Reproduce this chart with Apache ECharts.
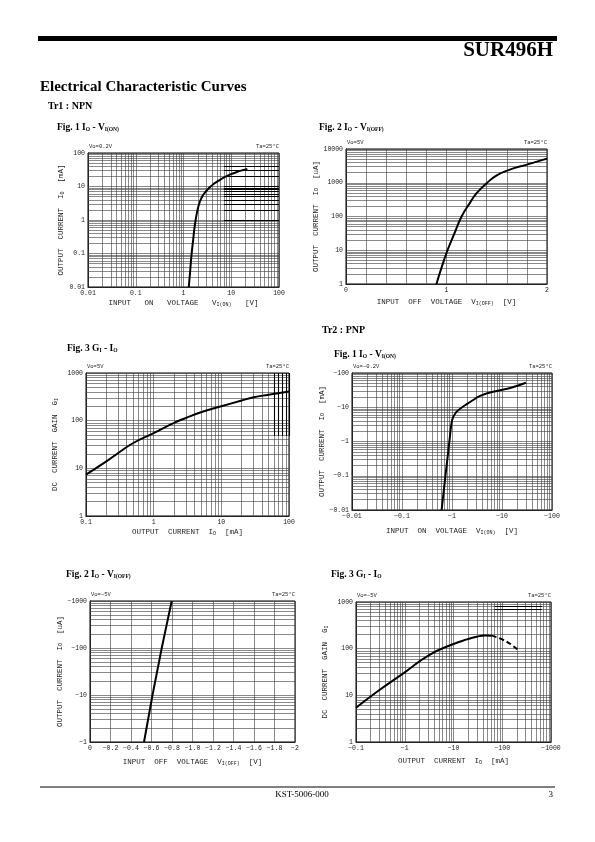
<!DOCTYPE html>
<html><head><meta charset="utf-8">
<script src="https://cdn.jsdelivr.net/npm/echarts@6/dist/echarts.min.js"></script>
<style>html,body{margin:0;padding:0;background:#fff}#c{width:595px;height:842px}</style>
</head><body><div id="c"></div>
<script>
// ---------------- DATA ----------------
// Tr1 NPN  Fig.1  Io - Vi(on)   (V, mA)
const npn1Vin = [1.29, 1.38, 1.47, 1.6, 1.73, 1.95, 2.2, 2.5, 2.9, 3.5, 4.2, 5.5, 7.4, 10, 13, 17, 21.7];
const npn1Io  = [0.01, 0.03, 0.09, 0.27, 0.71, 1.9, 3.5, 5.2, 6.9, 9.3, 11.7, 15, 19.4, 23.5, 27, 30.5, 33.5];
// Tr1 NPN  Fig.2  Io - Vi(off)  (V, uA)
const npn2Vin = [0.90, 0.95, 1.01, 1.08, 1.15, 1.23, 1.3, 1.4, 1.5, 1.63, 1.8, 2.0];
const npn2Io  = [1, 3, 10, 32, 100, 245, 490, 970, 1650, 2450, 3450, 5200];
// Tr1 NPN  Fig.3  Gi - Io  (mA, -)
const npn3Io   = [0.1, 0.2, 0.3, 0.5, 1, 2, 3, 5, 10, 20, 30, 50, 100];
const npn3Gain = [7.4, 14, 21, 34, 55, 90, 114, 150, 200, 265, 310, 350, 410];
// Tr2 PNP  Fig.1  Io - Vi(on)  (magnitudes: -V, -mA)
const pnp1Vin = [0.62, 0.7, 0.8, 0.9, 0.955, 1.0, 1.06, 1.18, 1.34, 1.6, 1.97, 2.6, 3.65, 5.3, 7.9, 12, 17, 30];
const pnp1Io  = [0.01, 0.049, 0.27, 1.23, 2.67, 4.0, 5.2, 6.8, 8.2, 10.0, 12.3, 16, 21.5, 26, 30, 34, 39, 52];
// Tr2 PNP  Fig.2  Io - Vi(off)  (magnitudes: -V, -uA)
const pnp2Vin = [0.527, 0.61, 0.70, 0.797];
const pnp2Io  = [1, 10, 100, 1000];
// Tr2 PNP  Fig.3  Gi - Io  (magnitudes: -mA)
const pnp3Io       = [0.1, 0.27, 1, 3.16, 10, 18.9, 30, 44, 61];
const pnp3Gain     = [5.4, 11.9, 31, 73, 126, 158, 180, 192, 190];
const pnp3IoDash   = [61, 97, 147, 216];
const pnp3GainDash = [190, 160, 126, 91];
// heavy (printed) rule segments visible in the original plots
const npn1HeavyY = [1, 2, 3, 4, 5, 6, 7, 8, 9, 10, 20, 30, 40];
const npn1HeavyX = [7, 100];
const npn3HeavyX = [60, 70, 80, 90, 100];
const npn3HeavyY = [48, 1000];
const pnp3HeavyY = [700, 800];
const pnp3HeavyX = [70, 650];
// tick labels
const logLabels = {0.01:'0.01',0.1:'0.1',1:'1',10:'10',100:'100',1000:'1000',10000:'10000'};
const pnp2XLabels = {0:'0',0.2:'\u22120.2',0.4:'\u22120.4',0.6:'\u22120.6',0.8:'\u22120.8',1:'\u22121.0',1.2:'\u22121.2',1.4:'\u22121.4',1.6:'\u22121.6',1.8:'\u22121.8',2:'\u22122'};

// ---------------- HELPERS ----------------
const MONO = '"Liberation Mono","DejaVu Sans Mono",monospace';
const SERIF = '"Liberation Serif","DejaVu Serif",serif';
function key(v){ return +(+v).toPrecision(6); }
function logGrid(lo, hi){ const o=[]; for(let e=lo;e<hi;e++){ for(let m=1;m<=9;m++){ o.push(key(m*Math.pow(10,e))); } } o.push(key(Math.pow(10,hi))); return o; }
function linGrid(lo, hi, step){ const o=[]; for(let v=lo; v<=hi+1e-9; v+=step){ o.push(key(v)); } return o; }
function pairs(xs, ys){ return xs.map((x,i)=>[x, ys[i]]); }

const axNameRich = {
  a:{fontFamily:MONO,fontSize:7.5,color:'#222',verticalAlign:'bottom',lineHeight:10},
  s:{fontFamily:MONO,fontSize:5,color:'#222',verticalAlign:'bottom',lineHeight:5}
};

const charts = [
  { box:[88,153,191,134], x:{log:true,min:0.01,max:100,lines:logGrid(-2,2)}, y:{log:true,min:0.01,max:100,lines:logGrid(-2,2)},
    xName:'{a|INPUT   ON   VOLTAGE   V}{s|I(ON)}{a|   [V]}', yName:'{a|OUTPUT  CURRENT  I}{s|O}{a|  [mA]}', xGap:10, yGap:22,
    vo:'Vo=0.2V', curves:[{d:pairs(npn1Vin,npn1Io),dash:false}], heavy:npn1HeavyY.map(v=>[[npn1HeavyX[0],v],[npn1HeavyX[1],v]]) },
  { box:[346,149,201,135], x:{log:false,min:0,max:2,interval:1,lines:linGrid(0,2,0.2)}, y:{log:true,min:1,max:10000,lines:logGrid(0,4)},
    xName:'{a|INPUT  OFF  VOLTAGE  V}{s|I(OFF)}{a|  [V]}', yName:'{a|OUTPUT  CURRENT  I}{s|O}{a|  [uA]}', xGap:12, yGap:23,
    vo:'Vo=5V', curves:[{d:pairs(npn2Vin,npn2Io),dash:false}], heavy:[] },
  { box:[86,373,203,143], x:{log:true,min:0.1,max:100,lines:logGrid(-1,2)}, y:{log:true,min:1,max:1000,lines:logGrid(0,3)},
    xName:'{a|OUTPUT  CURRENT  I}{s|O}{a|  [mA]}', yName:'{a|DC  CURRENT  GAIN  G}{s|I}', xGap:10, yGap:27,
    vo:'Vo=5V', curves:[{d:pairs(npn3Io,npn3Gain),dash:false}], heavy:npn3HeavyX.map(v=>[[v,npn3HeavyY[0]],[v,npn3HeavyY[1]]]) },
  { box:[352,373,200,137], x:{log:true,min:0.01,max:100,lines:logGrid(-2,2),neg:true}, y:{log:true,min:0.01,max:100,lines:logGrid(-2,2),neg:true},
    xName:'{a|INPUT  ON  VOLTAGE  V}{s|I(ON)}{a|  [V]}', yName:'{a|OUTPUT  CURRENT  I}{s|O}{a|  [mA]}', xGap:15, yGap:23,
    vo:'Vo=\u22120.2V', curves:[{d:pairs(pnp1Vin,pnp1Io),dash:false}], heavy:[] },
  { box:[90,601,205,141], x:{log:false,min:0,max:2,interval:0.2,lines:linGrid(0,2,0.2),labels:pnp2XLabels}, y:{log:true,min:1,max:1000,lines:logGrid(0,3),neg:true},
    xName:'{a|INPUT  OFF  VOLTAGE  V}{s|I(OFF)}{a|  [V]}', yName:'{a|OUTPUT  CURRENT  I}{s|O}{a|  [uA]}', xGap:14, yGap:26,
    vo:'Vo=\u22125V', curves:[{d:pairs(pnp2Vin,pnp2Io),dash:false,straight:true}], heavy:[] },
  { box:[356,602,195,140], x:{log:true,min:0.1,max:1000,lines:logGrid(-1,3),neg:true}, y:{log:true,min:1,max:1000,lines:logGrid(0,3)},
    xName:'{a|OUTPUT  CURRENT  I}{s|O}{a|  [mA]}', yName:'{a|DC  CURRENT  GAIN  G}{s|I}', xGap:13, yGap:27,
    vo:'Vo=\u22125V', curves:[{d:pairs(pnp3Io,pnp3Gain),dash:false},{d:pairs(pnp3IoDash,pnp3GainDash),dash:true}], heavy:pnp3HeavyY.map(v=>[[pnp3HeavyX[0],v],[pnp3HeavyX[1],v]]) }
];

function fmtLabel(ax){
  return function(v){
    const k = key(v);
    if (ax.labels) return ax.labels[k] !== undefined ? ax.labels[k] : '';
    if (!ax.log && ax.interval === 1) { return String(k); }
    const s = logLabels[k] !== undefined ? logLabels[k] : String(k);
    return ax.neg ? '\u2212' + s : s;
  };
}

const grid=[], xAxis=[], yAxis=[], series=[], graphic=[];
charts.forEach((c,i)=>{
  const [l,t,w,h] = c.box;
  grid.push({left:l, top:t, width:w, height:h, show:true, borderColor:'#000', borderWidth:1, containLabel:false});
  const axCommon = {
    axisLine:{show:true,onZero:false,lineStyle:{color:'#000',width:1}},
    axisTick:{show:false}, splitLine:{show:false},
    nameLocation:'middle', nameTextStyle:{rich:axNameRich}
  };
  xAxis.push(Object.assign({}, axCommon, {
    gridIndex:i, type:c.x.log?'log':'value', logBase:10, min:c.x.min, max:c.x.max,
    interval:c.x.log?undefined:c.x.interval,
    name:c.xName, nameGap:c.xGap,
    axisLabel:{formatter:fmtLabel(c.x), fontFamily:MONO, fontSize:6.5, color:'#222', margin:3, showMinLabel:true, showMaxLabel:true}
  }));
  yAxis.push(Object.assign({}, axCommon, {
    gridIndex:i, type:'log', logBase:10, min:c.y.min, max:c.y.max,
    name:c.yName, nameGap:c.yGap, nameRotate:90,
    axisLabel:{formatter:fmtLabel(c.y), fontFamily:MONO, fontSize:6.5, color:'#222', margin:3, showMinLabel:true, showMaxLabel:true}
  }));
  // grid rules
  const ml = [];
  c.x.lines.forEach(v=>ml.push({xAxis:v}));
  c.y.lines.forEach(v=>ml.push({yAxis:v}));
  series.push({type:'line', xAxisIndex:i, yAxisIndex:i, data:[], z:1, silent:true,
    markLine:{silent:true, symbol:['none','none'], animation:false, label:{show:false},
      lineStyle:{color:'#3a3a3a', width:0.6, type:'solid'}, emphasis:{disabled:true}, data:ml}});
  if (c.heavy.length){
    series.push({type:'line', xAxisIndex:i, yAxisIndex:i, data:[], z:2, silent:true,
      markLine:{silent:true, symbol:['none','none'], animation:false, label:{show:false},
        lineStyle:{color:'#000', width:1.1, type:'solid'}, emphasis:{disabled:true},
        data:c.heavy.map(s=>[{coord:s[0]},{coord:s[1]}])}});
  }
  c.curves.forEach(cv=>{
    series.push({type:'line', xAxisIndex:i, yAxisIndex:i, data:cv.d, z:5, showSymbol:false, silent:true,
      smooth:cv.straight?false:0.5,
      lineStyle:{color:'#000', width:2, type:cv.dash?[5,3]:'solid'}});
  });
  // condition annotations
  graphic.push({type:'text', x:l+1, y:t-6, style:{text:c.vo, font:'5.5px '+MONO, fill:'#222', textAlign:'left', textVerticalAlign:'middle', align:'left', verticalAlign:'middle'}});
  graphic.push({type:'text', x:l+w, y:t-6, style:{text:'Ta=25\u00b0C', font:'5.5px '+MONO, fill:'#222', textAlign:'right', textVerticalAlign:'middle', align:'right', verticalAlign:'middle'}});
});

// page texts
function txt(x,y,text,font,align){ return {type:'text', x:x, y:y, style:{text:text, font:font, fill:'#000', textAlign:align||'left', textVerticalAlign:'middle', align:align||'left', verticalAlign:'middle'}}; }
function figTitle(x,y,parts){
  return {type:'text', x:x, y:y, style:{text:parts, fill:'#000', textAlign:'left', textVerticalAlign:'middle', align:'left', verticalAlign:'middle',
    rich:{b:{fontFamily:SERIF,fontWeight:'bold',fontSize:9.5,lineHeight:12,verticalAlign:'bottom'},
          s:{fontFamily:SERIF,fontWeight:'bold',fontSize:5.5,lineHeight:5,verticalAlign:'bottom'}}}};
}
graphic.push({type:'rect', shape:{x:38, y:36, width:519, height:5}, style:{fill:'#000'}});
graphic.push(txt(553, 51, 'SUR496H', 'bold 21px '+SERIF, 'right'));
graphic.push(txt(40, 87, 'Electrical Characteristic Curves', 'bold 15px '+SERIF));
graphic.push(txt(48, 106, 'Tr1 : NPN', 'bold 10px '+SERIF));
graphic.push(txt(322, 330, 'Tr2 : PNP', 'bold 10px '+SERIF));
graphic.push(figTitle(57, 127, '{b|Fig. 1 I}{s|O}{b| - V}{s|I(ON)}'));
graphic.push(figTitle(319, 127, '{b|Fig. 2 I}{s|O}{b| - V}{s|I(OFF)}'));
graphic.push(figTitle(67, 348, '{b|Fig. 3 G}{s|I}{b| - I}{s|O}'));
graphic.push(figTitle(334, 354, '{b|Fig. 1 I}{s|O}{b| - V}{s|I(ON)}'));
graphic.push(figTitle(66, 574, '{b|Fig. 2 I}{s|O}{b| - V}{s|I(OFF)}'));
graphic.push(figTitle(331, 574, '{b|Fig. 3 G}{s|I}{b| - I}{s|O}'));
graphic.push({type:'line', shape:{x1:40, y1:787, x2:555, y2:787}, style:{stroke:'#000', lineWidth:1}});
graphic.push(txt(302, 795, 'KST-5006-000', '9px '+SERIF, 'center'));
graphic.push(txt(553, 795, '3', '9px '+SERIF, 'right'));

const chart = echarts.init(document.getElementById('c'), null, {renderer:'canvas', width:595, height:842});
chart.setOption({animation:false, backgroundColor:'#fff', grid, xAxis, yAxis, series, graphic});
</script>
</body></html>
